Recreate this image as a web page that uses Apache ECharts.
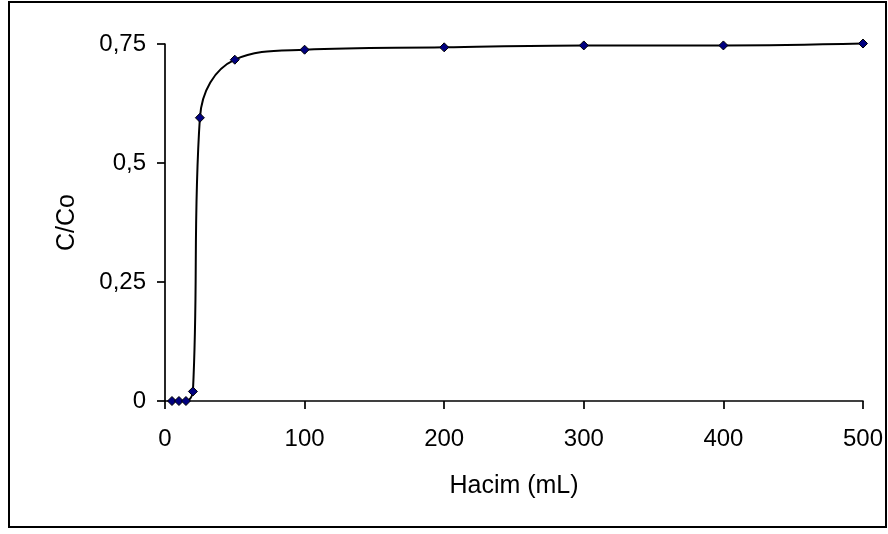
<!DOCTYPE html>
<html>
<head>
<meta charset="utf-8">
<script src="https://cdn.jsdelivr.net/npm/echarts@6/dist/echarts.min.js"></script>
<style>
html,body{margin:0;padding:0;background:#fff;}
#chart{width:888px;height:534px;}
</style>
</head>
<body>
<div id="chart"></div>
<script>
var volumes = [5, 10, 15, 20, 25, 50, 100, 200, 300, 400, 500];
var ratios = [0, 0, 0, 0.02, 0.595, 0.717, 0.738, 0.743, 0.747, 0.747, 0.751];
var xTicks = [0, 100, 200, 300, 400, 500];
var yTicks = [0, 0.25, 0.5, 0.75];
var xName = 'Hacim (mL)';
var yName = 'C/Co';

var chart = echarts.init(document.getElementById('chart'));
var font = 'Liberation Sans, Arial, sans-serif';
chart.setOption({
  animation: false,
  backgroundColor: '#fff',
  grid: {left: 165, right: 25, top: 44, bottom: 133},
  graphic: [{
    type: 'rect', shape: {x: 9, y: 2, width: 877, height: 525},
    style: {fill: 'none', stroke: '#000', lineWidth: 2}, silent: true
  }],
  xAxis: {
    type: 'value', min: xTicks[0], max: xTicks[xTicks.length - 1], interval: 100,
    name: xName, nameLocation: 'middle', nameGap: 73,
    nameTextStyle: {fontFamily: font, fontSize: 25, color: '#000'},
    axisLine: {show: true, onZero: false, lineStyle: {color: '#000', width: 1.7}},
    axisTick: {show: true, length: 8, inside: false, lineStyle: {color: '#000', width: 1.7}},
    axisLabel: {fontFamily: font, fontSize: 24, color: '#000', margin: 26},
    splitLine: {show: false}
  },
  yAxis: {
    type: 'value', min: yTicks[0], max: yTicks[yTicks.length - 1], interval: 0.25,
    name: yName, nameLocation: 'middle', nameGap: 85, nameRotate: 90,
    nameTextStyle: {fontFamily: font, fontSize: 25, color: '#000'},
    axisLine: {show: true, onZero: false, lineStyle: {color: '#000', width: 1.7}},
    axisTick: {show: true, length: 8, lineStyle: {color: '#000', width: 1.7}},
    axisLabel: {fontFamily: font, fontSize: 24, color: '#000', margin: 19,
      formatter: function (v) { return String(v).replace('.', ','); }},
    splitLine: {show: false}
  },
  series: [{
    type: 'line',
    data: volumes.map(function (v, i) { return [v, ratios[i]]; }),
    smooth: 0.4,
    clip: false,
    symbol: 'diamond', symbolSize: 9,
    itemStyle: {color: '#000080', borderColor: '#000', borderWidth: 1},
    lineStyle: {color: '#000', width: 2}
  }]
});
</script>
</body>
</html>
